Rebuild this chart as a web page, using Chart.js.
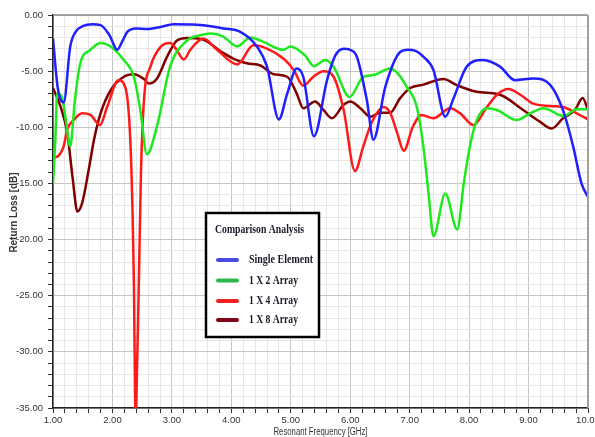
<!DOCTYPE html>
<html>
<head>
<meta charset="utf-8">
<script src="https://cdn.jsdelivr.net/npm/chart.js@4/dist/chart.umd.min.js"></script>
<style>
  html, body { margin: 0; padding: 0; background: #fff; }
  canvas { display: block; }
</style>
</head>
<body>
<canvas id="chart" width="595" height="437"></canvas>
<script>
// Series: [frequency GHz, return loss dB]
const singleElement = [
    [1.00, -2.1], [1.08, -6.5], [1.18, -7.8], [1.29, -2.8], [1.38, -1.5], [1.50, -1.0],
    [1.66, -0.83], [1.80, -0.9], [1.95, -1.8], [2.08, -3.1], [2.17, -2.3], [2.25, -1.5],
    [2.40, -1.2], [2.58, -1.25], [2.81, -1.06], [3.03, -0.83], [3.35, -0.85], [3.65, -1.0],
    [3.87, -1.2], [4.15, -1.5], [4.43, -2.8], [4.60, -4.6], [4.80, -9.3], [4.94, -7.0],
    [5.10, -4.76], [5.21, -5.5], [5.39, -10.8], [5.61, -5.8], [5.75, -3.6], [5.89, -3.0],
    [6.00, -3.1], [6.11, -3.7], [6.28, -7.6], [6.39, -11.1], [6.59, -6.4], [6.84, -3.3],
    [6.97, -3.1], [7.10, -3.2], [7.23, -3.7], [7.40, -4.9], [7.60, -9.06], [7.74, -7.4],
    [7.96, -4.6], [8.24, -4.0], [8.52, -4.6], [8.77, -5.8], [9.08, -5.65], [9.36, -6.2],
    [9.58, -8.5], [9.75, -11.7], [9.89, -15.0], [10.00, -16.2]
];
const array1x2 = [
    [1.00, -15.0], [1.04, -11.0], [1.07, -7.0], [1.15, -7.3], [1.22, -9.5], [1.29, -11.7],
    [1.37, -7.5], [1.46, -4.3], [1.63, -3.1], [1.80, -2.5], [1.97, -2.8], [2.19, -4.0],
    [2.36, -5.5], [2.47, -8.5], [2.58, -12.4], [2.75, -9.9], [2.97, -4.6], [3.26, -2.25],
    [3.48, -1.8], [3.65, -1.65], [3.87, -1.95], [4.10, -2.8], [4.32, -2.0], [4.54, -2.4],
    [4.88, -3.1], [4.99, -2.8], [5.24, -3.6], [5.39, -4.55], [5.58, -4.0], [5.72, -4.6],
    [5.99, -7.3], [6.22, -5.5], [6.39, -5.35], [6.67, -4.76], [6.80, -5.2], [6.95, -6.4],
    [7.12, -8.2], [7.23, -11.7], [7.32, -16.0], [7.40, -19.7], [7.60, -15.9], [7.80, -19.1],
    [7.91, -15.0], [8.02, -11.5], [8.13, -9.35], [8.30, -8.3], [8.47, -8.46], [8.80, -9.35],
    [9.03, -8.76], [9.25, -8.3], [9.59, -9.0], [9.81, -8.4], [10.00, -8.4]
];
const array1x4 = [
    [1.00, -12.75], [1.10, -12.5], [1.18, -11.7], [1.24, -10.2], [1.35, -9.35], [1.49, -8.76],
    [1.63, -8.9], [1.79, -9.8], [1.91, -8.2], [2.10, -5.8], [2.22, -6.5], [2.30, -11.1],
    [2.34, -18.0], [2.36, -23.6], [2.39, -36.0], [2.42, -30.0], [2.44, -25.0], [2.48, -14.0],
    [2.53, -7.6], [2.64, -4.6], [2.81, -2.84], [2.97, -2.5], [3.08, -3.1], [3.20, -3.96],
    [3.31, -3.1], [3.53, -2.1], [3.76, -3.1], [4.10, -4.4], [4.37, -2.7], [4.60, -3.0],
    [4.88, -3.9], [5.05, -4.9], [5.21, -6.3], [5.38, -5.5], [5.55, -5.0], [5.72, -5.5],
    [5.89, -8.46], [6.08, -13.9], [6.22, -11.7], [6.36, -9.6], [6.56, -8.2], [6.67, -8.7],
    [6.79, -10.5], [6.90, -12.1], [7.05, -10.0], [7.20, -8.9], [7.40, -9.2], [7.68, -8.3],
    [7.85, -8.76], [8.07, -9.8], [8.30, -8.2], [8.47, -7.1], [8.66, -6.6], [8.86, -7.1],
    [9.08, -7.9], [9.36, -8.1], [9.58, -8.2], [9.81, -8.76], [10.00, -9.3]
];
const array1x8 = [
    [1.00, -6.5], [1.13, -8.2], [1.24, -10.5], [1.33, -14.5], [1.41, -17.5], [1.49, -16.75],
    [1.60, -13.8], [1.69, -11.1], [1.80, -8.76], [1.97, -6.7], [2.19, -5.5], [2.36, -5.27],
    [2.53, -5.7], [2.61, -6.1], [2.75, -5.65], [2.92, -3.7], [3.09, -2.25], [3.26, -2.04],
    [3.50, -2.15], [3.87, -3.4], [4.04, -3.9], [4.26, -4.3], [4.49, -4.5], [4.71, -5.27],
    [4.94, -5.5], [5.10, -7.0], [5.21, -8.3], [5.41, -7.7], [5.55, -8.46], [5.69, -9.2],
    [5.89, -8.0], [6.00, -7.7], [6.17, -8.3], [6.34, -9.06], [6.50, -8.7], [6.67, -8.7],
    [6.84, -7.4], [7.01, -6.5], [7.23, -6.2], [7.57, -5.7], [7.79, -6.24], [8.13, -6.84],
    [8.52, -7.1], [8.91, -8.46], [9.19, -9.5], [9.39, -10.1], [9.58, -9.2], [9.78, -8.46],
    [9.91, -7.4], [10.00, -8.46]
];

const SERIES_NAMES = ['Single Element', '1 X 2 Array', '1 X 4 Array', '1 X 8 Array'];
const SERIES_COLORS = ['#1f1fff', '#1ee81e', '#ff1a1a', '#800000'];
const LEGEND_COLORS = ['#4a4ae0', '#2eb84a', '#ee2222', '#800018'];
const X_TITLE = 'Resonant Frequency [GHz]';
const Y_TITLE = 'Return Loss [dB]';
const LEGEND_TITLE = 'Comparison Analysis';

const X_MIN = 1, X_MAX = 10, X_MINOR = 0.2, X_MAJOR = 1;
const Y_MIN = -35, Y_MAX = 0, Y_MINOR = 1, Y_MAJOR = 5;

const SANS = "'Liberation Sans', Arial, sans-serif";
const SERIF = "'Liberation Serif', 'Times New Roman', serif";

function isMajor(value, step) {
    const r = value / step;
    return Math.abs(r - Math.round(r)) < 1e-6;
}

function stepTicks(min, max, step) {
    const ticks = [];
    const n = Math.round((max - min) / step);
    for (let i = 0; i <= n; i++) ticks.push({ value: +(min + i * step).toFixed(6) });
    return ticks;
}

const gridColor = (step) => (ctx) =>
    ctx.tick && isMajor(ctx.tick.value, step) ? '#c6c6c6' : '#e6e6e6';

// Axis titles (condensed via maxWidth), top/right frame and the boxed legend
const framePlugin = {
    id: 'frame',
    afterDatasetsDraw(chart) {
        const { ctx, chartArea: a } = chart;
        ctx.save();
        ctx.strokeStyle = '#8c8c8c';
        ctx.lineWidth = 1.5;
        ctx.beginPath();
        ctx.moveTo(a.left, a.top);
        ctx.lineTo(a.right, a.top);
        ctx.stroke();
        ctx.lineWidth = 2;
        ctx.strokeStyle = '#a0a0a0';
        ctx.beginPath();
        ctx.moveTo(a.right, a.top);
        ctx.lineTo(a.right, a.bottom);
        ctx.stroke();

        // axis titles
        ctx.fillStyle = '#333';
        ctx.textAlign = 'center';
        ctx.textBaseline = 'middle';
        ctx.font = '10px ' + SANS;
        ctx.fillText(X_TITLE, (a.left + a.right) / 2, chart.height - 5, 94);
        ctx.save();
        ctx.translate(14, (a.top + a.bottom) / 2 + 1);
        ctx.rotate(-Math.PI / 2);
        ctx.font = 'bold 10px ' + SANS;
        ctx.fillText(Y_TITLE, 0, 0, 80);
        ctx.restore();

        // legend box
        const bx = a.left + 153, by = a.top + 198, bw = 113, bh = 124;
        ctx.fillStyle = '#fff';
        ctx.fillRect(bx, by, bw, bh);
        ctx.strokeStyle = '#000';
        ctx.lineWidth = 2.5;
        ctx.strokeRect(bx, by, bw, bh);

        ctx.fillStyle = '#1a1a2a';
        ctx.textAlign = 'left';
        ctx.font = 'bold 12px ' + SERIF;
        ctx.fillText(LEGEND_TITLE, bx + 9, by + 17, 89);

        const rowY = [47, 67.5, 88, 107];
        chart.data.datasets.forEach((ds, i) => {
            const y = by + rowY[i];
            ctx.strokeStyle = LEGEND_COLORS[i];
            ctx.lineWidth = 4;
            ctx.lineCap = 'round';
            ctx.beginPath();
            ctx.moveTo(bx + 12, y);
            ctx.lineTo(bx + 31, y);
            ctx.stroke();
            ctx.fillStyle = '#1a1a2a';
            const maxW = i === 0 ? 64 : 49;
            ctx.fillText(ds.label, bx + 43, y, maxW);
        });
        ctx.restore();
    }
};

const toPoints = (arr) => arr.map(([x, y]) => ({ x, y }));
const seriesData = [singleElement, array1x2, array1x4, array1x8];

new Chart(document.getElementById('chart'), {
    type: 'line',
    data: {
        datasets: seriesData.map((arr, i) => ({
            label: SERIES_NAMES[i],
            data: toPoints(arr),
            borderColor: SERIES_COLORS[i],
            backgroundColor: SERIES_COLORS[i],
            borderWidth: 2.5,
            pointRadius: 0,
            cubicInterpolationMode: 'monotone',
            fill: false
        }))
    },
    options: {
        responsive: false,
        animation: false,
        layout: { padding: { top: 15, right: 7, left: 0, bottom: 0 } },
        plugins: {
            legend: { display: false },
            tooltip: { enabled: false }
        },
        scales: {
            x: {
                type: 'linear',
                min: X_MIN,
                max: X_MAX,
                afterBuildTicks: (scale) => { scale.ticks = stepTicks(X_MIN, X_MAX, X_MINOR); },
                afterFit: (scale) => {
                    scale.height = 29;
                    scale.paddingLeft = 0;
                    scale.paddingRight = 0;
                },
                grid: {
                    color: gridColor(X_MAJOR),
                    lineWidth: 1,
                    tickLength: 5,
                    tickColor: '#333',
                    drawTicks: true
                },
                border: { color: '#222', width: 1.5 },
                ticks: {
                    autoSkip: false,
                    maxRotation: 0,
                    padding: 2,
                    color: '#333',
                    font: { family: SANS, size: 9.5 },
                    callback: (v) => isMajor(v, X_MAJOR) ? Number(v).toFixed(2) : ''
                },
                title: { display: false }
            },
            y: {
                type: 'linear',
                min: Y_MIN,
                max: Y_MAX,
                afterBuildTicks: (scale) => { scale.ticks = stepTicks(Y_MIN, Y_MAX, Y_MINOR); },
                afterFit: (scale) => {
                    scale.width = 53;
                    scale.paddingTop = 0;
                    scale.paddingBottom = 0;
                },
                grid: {
                    color: gridColor(Y_MAJOR),
                    lineWidth: 1,
                    tickLength: 5,
                    tickColor: '#333',
                    drawTicks: true
                },
                border: { color: '#222', width: 1.5 },
                ticks: {
                    autoSkip: false,
                    padding: 5,
                    color: '#333',
                    font: { family: SANS, size: 9.5 },
                    callback: (v) => isMajor(v, Y_MAJOR) ? Number(v).toFixed(2) : ''
                },
                title: { display: false }
            }
        }
    },
    plugins: [framePlugin]
});
</script>
</body>
</html>
